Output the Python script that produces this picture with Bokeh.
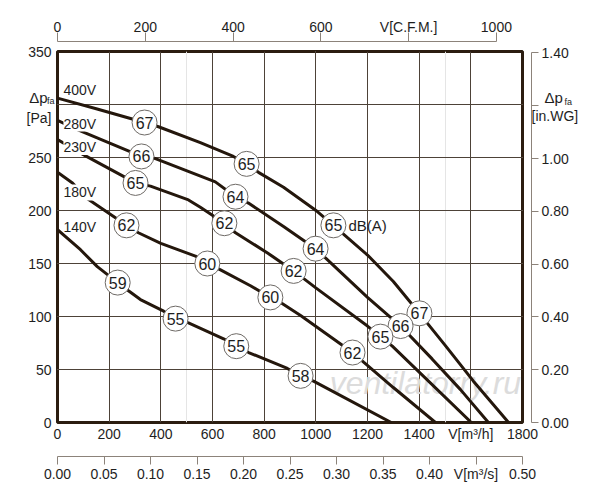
from bokeh.plotting import figure
from bokeh.models import (Range1d, LinearAxis, FixedTicker, Grid, Label,
                          NumeralTickFormatter)
from bokeh.core.properties import value
from bokeh.embed import file_html
from bokeh.resources import INLINE

# fan curves: flow V [m3/h] and pressure dp_fa [Pa]
q_400 = [0, 150, 337, 391, 553, 681, 732, 778, 875, 1006, 1068, 1200, 1300, 1401, 1500, 1610, 1746]
p_400 = [306, 296, 283, 279, 264, 251, 244, 236, 222, 199, 186, 158, 133, 103, 73, 39, 0]

q_280 = [0, 70, 325, 379, 611, 689, 739, 875, 999, 1100, 1200, 1328, 1450, 1560, 1668]
p_280 = [285, 277, 251, 249, 227, 213, 207, 185, 164, 141, 118, 91, 60, 31, 0]

q_230 = [0, 105, 302, 360, 507, 553, 646, 689, 813, 914, 1000, 1200, 1250, 1296, 1602]
p_230 = [267, 252, 226, 223, 210, 203, 188, 179, 160, 143, 127, 91, 81, 72, 0]

q_180 = [0, 58, 116, 267, 313, 400, 534, 580, 631, 747, 824, 871, 941, 1142, 1185, 1300, 1463]
p_180 = [236, 226, 211, 186, 179, 169, 157, 150, 144, 129, 118, 112, 101, 66, 57, 33, 0]

q_140 = [0, 89, 154, 233, 276, 321, 411, 457, 507, 643, 692, 740, 890, 941, 991, 1292]
p_140 = [182, 163, 147, 132, 124, 116, 105, 98, 94, 79, 72, 66, 51, 44, 39, 0]

# noise level markers dB(A)
db_q = [337, 732, 1068, 1401, 325, 689, 999, 1328, 302, 646, 914, 1250,
        267, 580, 824, 1142, 233, 457, 692, 941]
db_p = [283, 244, 186, 103, 251, 213, 164, 91, 226, 188, 143, 81,
        186, 150, 118, 66, 132, 98, 72, 44]
db_txt = ["67", "65", "65", "67", "66", "64", "64", "66", "65", "62", "62", "65",
          "62", "60", "60", "62", "59", "55", "55", "58"]

volt_txt = ["400V", "280V", "230V", "180V", "140V"]
volt_p = [314, 282, 260, 217, 184]

pa_ticks = [0, 50, 100, 150, 200, 250, 300, 350]
m3h_ticks = [0, 200, 400, 600, 800, 1000, 1200, 1400, 1600, 1800]
cfm_ticks = [0, 200, 400, 600, 800, 1000]
m3s_ticks = [0.0, 0.05, 0.1, 0.15, 0.2, 0.25, 0.3, 0.35, 0.4, 0.45, 0.5]
inwg_ticks = [0.0, 0.2, 0.4, 0.6, 0.8, 1.0, 1.2, 1.4]

FONT = "Liberation Sans"
INK = "#1e1e1e"
DARK = "#24170c"
GRAY = "#8c837a"

p = figure(width=584, height=484, x_range=Range1d(0, 1800), y_range=Range1d(0, 350),
           x_axis_location=None, y_axis_location=None, title=None,
           toolbar_location=None, output_backend="svg",
           min_border_left=57, min_border_right=62, min_border_top=51, min_border_bottom=60)
p.background_fill_color = "white"
p.border_fill_color = "white"
p.outline_line_color = "#2b1d10"
p.outline_line_width = 3

p.extra_x_ranges = {"cfm": Range1d(0, 1800 / 1.699), "m3s": Range1d(0, 0.5)}
p.extra_y_ranges = {"inwg": Range1d(0, 350 / 249.0)}


def style(ax, size="14px"):
    ax.major_label_text_font = FONT
    ax.major_label_text_font_size = size
    ax.major_label_text_color = INK
    ax.minor_tick_line_color = None
    return ax


def spacer(gap, tick, **kw):
    # near-invisible axis that only keeps a gap between the frame and the next axis
    return LinearAxis(ticker=FixedTicker(ticks=[tick]), axis_line_color=None,
                      major_tick_line_color="white", major_tick_line_alpha=0.01,
                      minor_tick_line_color=None, major_tick_in=0, major_tick_out=gap,
                      major_label_overrides={tick: ""}, major_label_text_font_size="0px",
                      major_label_standoff=0, **kw)


def note(ticks, labels, standoff, size="14px", y_range_name="default"):
    # a bare axis used only to place a text label beside the frame
    ax = style(LinearAxis(ticker=FixedTicker(ticks=ticks), y_range_name=y_range_name), size)
    ax.major_label_overrides = dict(zip(ticks, labels))
    ax.axis_line_color = None
    ax.major_tick_line_color = None
    ax.major_tick_in = 0
    ax.major_tick_out = 0
    ax.major_label_standoff = standoff
    return ax


left = style(LinearAxis(ticker=FixedTicker(ticks=pa_ticks + [287])))
left.major_label_overrides = {300: "", 287: "[Pa]"}
left.axis_line_color = None
left.major_tick_line_color = None
left.major_tick_in = 0
left.major_tick_out = 0
left.major_label_standoff = 6
p.add_layout(left, "left")
p.add_layout(note([307], ["Δp"], -24, "15px"), "left")
p.add_layout(note([303], ["fa"], -31, "9px"), "left")

bottom = style(LinearAxis(ticker=FixedTicker(ticks=m3h_ticks)))
bottom.major_label_overrides = {1600: "V[m³/h]"}
bottom.axis_line_color = None
bottom.major_tick_line_color = None
bottom.major_tick_in = 0
bottom.major_tick_out = 0
bottom.major_label_standoff = 3
p.add_layout(bottom, "below")
p.add_layout(spacer(12, 900), "below")

m3s = style(LinearAxis(x_range_name="m3s", ticker=FixedTicker(ticks=m3s_ticks),
                       formatter=NumeralTickFormatter(format="0.00")))
m3s.major_label_overrides = {0.45: "V[m³/s]"}
m3s.axis_line_color = GRAY
m3s.major_tick_line_color = GRAY
m3s.major_tick_in = 0
m3s.major_tick_out = 8
m3s.major_label_standoff = 1
p.add_layout(m3s, "below")

p.add_layout(spacer(10, 900), "above")
cfm = style(LinearAxis(x_range_name="cfm", ticker=FixedTicker(ticks=cfm_ticks), bounds=(0, 1000)))
cfm.major_label_overrides = {800: "V[C.F.M.]"}
cfm.axis_line_color = GRAY
cfm.major_tick_line_color = GRAY
cfm.major_tick_in = 0
cfm.major_tick_out = 9
cfm.major_label_standoff = -2
p.add_layout(cfm, "above")

p.add_layout(spacer(9, 175), "right")
inwg = style(LinearAxis(y_range_name="inwg", ticker=FixedTicker(ticks=inwg_ticks),
                        formatter=NumeralTickFormatter(format="0.00"), bounds=(0, 1.4)))
inwg.major_label_overrides = {1.2: ""}
inwg.axis_line_color = GRAY
inwg.major_tick_line_color = GRAY
inwg.major_tick_in = 0
inwg.major_tick_out = 7
inwg.major_label_standoff = 3
p.add_layout(inwg, "right")
p.add_layout(note([289], ["[in.WG]"], -40), "right")
p.add_layout(note([307], ["Δp"], -37, "15px"), "right")
p.add_layout(note([302], ["fa"], -17, "9px"), "right")

p.add_layout(Grid(dimension=0, ticker=FixedTicker(ticks=m3h_ticks[1:-1]),
                  grid_line_color="#4d4238", grid_line_width=1))
p.add_layout(Grid(dimension=1, ticker=FixedTicker(ticks=pa_ticks[1:-1]),
                  grid_line_color="#4d4238", grid_line_width=1))

# watermark
p.text([1424], [37], text=["ventilatorry.ru"], text_align="center", text_baseline="middle",
       text_font=value(FONT), text_font_style="italic", text_font_size="32px",
       text_color="#dcdcdc")

for q, pr in [(q_400, p_400), (q_280, p_280), (q_230, p_230), (q_180, p_180), (q_140, p_140)]:
    p.line(q, pr, line_width=3, line_color=DARK)

for txt, y in zip(volt_txt, volt_p):
    lab = Label(x=23, y=y, text=txt, text_font=FONT, text_font_size="14px", text_color=INK,
                text_baseline="middle", text_align="left")
    if txt in ("280V", "230V", "180V"):
        lab.background_fill_color = "white"
    p.add_layout(lab)

p.scatter(db_q, db_p, marker="circle", size=25, fill_color="white",
          line_color="#6e6a66", line_width=1)
p.text(db_q, db_p, text=db_txt, text_align="center", text_baseline="middle",
       text_font=value(FONT), text_font_size="16px", text_color=INK)
p.text([1068], [186], text=["dB(A)"], x_offset=15, text_align="left", text_baseline="middle",
       text_font=value(FONT), text_font_size="15px", text_color=INK)

open("out.html", "w").write(file_html(p, INLINE))
